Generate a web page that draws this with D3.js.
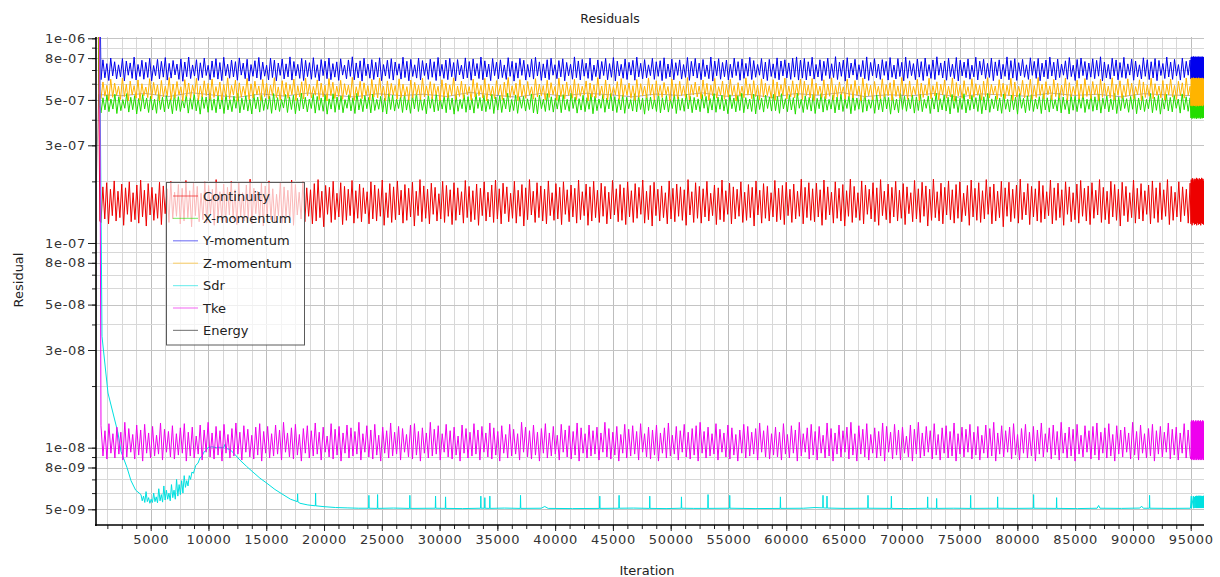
<!DOCTYPE html>
<html><head><meta charset="utf-8">
<script src="https://cdn.jsdelivr.net/npm/d3@7"></script>
<style>
body{margin:0;background:#fff;}
svg text{font-family:"DejaVu Sans",sans-serif;}
</style>
</head><body>
<svg id="chart" width="1220" height="577"></svg>
<script>
// ---------------- DATA ----------------
const chartTitle = "Residuals";
const xAxisTitle = "Iteration";
const yAxisTitle = "Residual";
const seriesNames = ["Continuity","X-momentum","Y-momentum","Z-momentum","Sdr","Tke","Energy"];

const xDomain = [268, 96150];
const yDomain = [4.19e-9, 1.0147e-6];
const xLabelValues = [5000,10000,15000,20000,25000,30000,35000,40000,45000,50000,55000,60000,65000,70000,75000,80000,85000,90000,95000];
const xLabels = ["5000","10000","15000","20000","25000","30000","35000","40000","45000","50000","55000","60000","65000","70000","75000","80000","85000","90000","95000"];
const yLabelValues = [5e-9,8e-9,1e-8,3e-8,5e-8,8e-8,1e-7,3e-7,5e-7,8e-7,1e-6];
const yLabels = ["5e-09","8e-09","1e-08","3e-08","5e-08","8e-08","1e-07","3e-07","5e-07","8e-07","1e-06"];
const yMinorValues = [5e-9,6e-9,7e-9,8e-9,9e-9,1e-8,2e-8,3e-8,4e-8,5e-8,6e-8,7e-8,8e-8,9e-8,1e-7,2e-7,3e-7,4e-7,5e-7,6e-7,7e-7,8e-7,9e-7,1e-6];

// iteration span of the regular oscillation and of the dense final block
const mainSpan = [700, 94950];
const endSpan = [95020, 96140];

// Continuity (x1e-9)
const contHeadIter = [380, 600];
const contHeadVal = [5000, 128];
const continuity = [126,188,131,197,124,183,136,201,128,179,133,194,122,186,138,199,127,176,130,192,
125,203,134,181,121,195,137,187,129,174,132,198,123,190,139,184,126,200,131,177,
135,193,124,185,128,202,133,180,120,196,136,189,127,175,130,199,125,191,138,183,
122,204,134,178,129,194,126,187,137,200,131,182,123,197,135,176,128,192,132,205,
124,185,139,179,127,196,121,190,133,201,130,184,126,173,136,198,125,188,134,181,
129,203,122,193,137,177,131,199,127,186,135,182,124,195,128,204,133,179,120,191,
138,187,126,200,130,175,134,197,123,189,129,183,136,202,125,180,132,194,127,186,
139,178,124,199,131,192,128,184,135,203,122,176,133,195,126,188,130,201,137,181,
125,193,129,185,134,198,121,179,136,204,127,190,132,183,124,196,138,187,128,174,
131,200,126,191,135,182,123,197,129,186,137,178,125,202,133,189,127,180,130,194,
122,185,136,199,128,177,134,192,126,203,131,184,124,196,139,188,127,175,132,200,
125,181,135,193,121,186,130,204,137,179,126,197,133,190,128,183,124,201,136,176,
129,195,131,187,123,199,138,182,127,192,134,185,125,203,130,178,136,194,122,188,
128,200,133,181,126,196,135,189,124,177,131,202,137,184,127,193,129,186,123,199,
134,180,126,195,132,187,138,203,125,179,130,191,121,198,136,183,128,190,133,176,
124,201,131,185,127,194,135,188,129,182,122,204,137,178,126,197,132,189,125,184,
134,200,128,175,136,192,123,186,130,203,127,180,138,196,124,188,131,183,135,199,
126,177,129,193,133,187,121,201,137,181,125,195,132,189,128,176,134,202,127,185,
130,191,123,198,136,183,126,194,131,179,135,205,124,187,133,197,129,184,
127,196,134,182,122,203,130,188,137,177,125,199,132,185,128,193,121,180,135,205,
126,189,133,176,129,201,124,192,138,183,131,197,127,186,122,204,136,179,130,194,
125,187,134,200,128,181,132,195,123,188,139,176,127,202,131,184,126,198,135,190,
121,183,129,205,133,178,128,196,124,187,137,201,130,182,125,193,132,199,127,175,
136,191,122,203,134,185,129,197,126,180,131,204,138,188,124,194,128,179,133,200,
120,186,135,198,127,183,132,192,125,205,130,177,137,195,123,189,134,184,128,201,
126,191,131,178,136,203,124,186,129,196,133,182,122,199,138,188,127,176,130,194,
125,202,135,185,128,190,123,197,132,181,137,204,126,187,130,179,124,200,134,193,
129,183,121,198,136,189,127,176,133,203,125,185,131,195,128,180,138,192,124,201,
132,186,126,197,130,182,135,204,123,189,129,177,134,199,127,188,136,183,125,196];
const continuityEnd = [124,204,127,201,122,207,126,203,125,199,128,206,123,202,126,205,124,200,127,208,122,203,125,206,128,201,123,204,126,207,124,200,127,205,122,203,125,208,128,202,124,206,126,201,123,205];

// X-momentum (x1e-9)
const xmomHeadIter = [400, 560];
const xmomHeadVal = [4000, 470];
const xMomentum = [432,512,447,528,438,505,451,533,429,518,443,502,455,537,436,515,448,525,427,508,
440,531,452,511,434,521,446,504,430,539,449,516,437,526,453,507,428,534,444,519,
439,503,456,529,431,513,450,536,442,509,426,524,454,517,435,540,445,506,433,527,
451,514,429,532,447,502,438,521,455,538,432,510,448,525,441,505,427,535,453,516,
436,529,444,508,450,522,430,537,446,513,439,503,456,531,434,518,449,526,428,509,
443,539,452,515,437,504,454,533,431,520,445,511,440,528,426,506,451,536,435,517,
448,523,433,502,455,530,442,512,429,539,447,507,438,524,453,515,432,534,444,503,
450,521,436,510,427,537,449,527,441,505,454,518,434,532,446,509,430,525,452,540,
439,513,445,504,428,529,455,516,437,535,443,507,451,522,433,538,448,511,426,526,
440,503,453,531,435,519,447,508,431,536,454,514,442,527,438,505,450,533,429,517,
446,524,434,510,452,539,437,502,444,529,430,515,455,520,441,506,449,535,432,512,
427,528,453,504,439,537,445,518,436,509,451,525,433,531,448,503,440,540,454,516,
431,507,446,527,438,513,450,534,428,521,443,505,455,530,435,511,452,538,442,519,
434,508,447,529,430,515,453,502,441,536,437,523,449,510,426,533,444,517,451,506,
439,540,432,512,448,525,436,503,454,531,429,518,445,509,440,535,452,521,433,514,
447,506,438,532,455,520,431,508,446,537,435,516,450,527,442,504,428,530,453,511,
437,524,444,539,433,513,451,505,439,534,427,522,449,510,436,528,454,517,441,532,
443,519,430,536,452,507,438,527,447,513,426,539,455,504,434,524,449,515,441,531,
429,509,453,537,436,520,445,503,451,528,432,516,447,535,439,506,454,522,428,533,
444,511,450,526,435,540,441,502,455,518,430,530,448,508,437,536,452,514,426,525,
446,505,433,538,449,521,440,510,453,529,431,517,444,534,438,503,455,523,429,512,
451,539,436,507,447,527,441,515,427,532,454,520,434,509,449,536,432,504,445,525,
452,513,439,530,428,518,446,538,435,506,453,522,442,511,430,534,450,503,437,528,
448,516,426,537,455,509,433,524,444,531,439,505,451,519,429,535,447,512,436,526,
453,502,441,539,432,517,449,508,427,530,445,521,438,513,455,536,434,504,450,527,
440,518,446,533,431,510,452,524,437,506,448,538,429,515,443,529,454,507,435,520,
450,534,428,511,447,523,439,503,453,537,433,516,445,526,426,509,451,532,442,514,
437,525,455,505,431,535,448,518,440,512];
const xMomentumEnd = [408,492,412,498,405,489,410,495,414,490,407,497,411,493,406,499,413,491,409,496,404,494,412,488,408,498,411,492,406,495,413,490,409,497,405,493,410,499,412,491,407,496,411,494,408,490];

// Y-momentum (x1e-9)
const ymomHeadIter = [520];
const ymomHeadVal = [5000];
const yMomentum = [628,785,641,752,622,801,655,768,633,742,648,796,619,774,660,758,637,809,626,745,
651,781,631,763,644,798,620,736,657,789,634,771,646,805,625,754,639,779,662,748,
630,793,617,766,649,810,636,741,654,786,623,759,642,800,658,738,627,775,645,795,
632,761,621,808,656,747,638,783,647,769,624,802,661,756,635,790,618,744,652,777,
640,806,629,765,653,739,626,799,643,782,620,757,659,792,633,750,648,811,625,770,
655,746,637,797,622,780,650,760,631,804,644,743,619,788,657,773,635,801,628,752,
646,767,623,794,661,740,634,784,652,812,627,758,641,776,618,799,656,749,638,787,
629,763,647,803,621,744,654,781,636,795,625,766,660,751,632,808,643,772,620,789,
651,742,639,800,626,778,658,755,630,791,645,768,622,806,653,746,637,783,628,797,
649,761,619,787,662,739,633,802,641,770,624,793,655,753,636,810,627,776,647,748,
621,796,657,764,634,785,643,741,630,804,652,772,618,759,639,798,659,781,625,745,
646,790,632,807,654,767,623,750,640,786,628,799,660,743,635,778,648,794,620,762,
656,747,631,811,642,775,626,789,653,756,637,801,622,740,650,784,633,770,658,797,
627,752,645,805,619,773,655,746,638,792,629,763,661,780,624,809,648,755,634,787,
641,742,657,798,630,768,652,777,621,803,636,749,647,791,627,760,659,785,632,744,
644,806,623,771,654,797,639,756,628,788,650,741,635,810,618,774,656,795,631,762,
649,783,626,747,643,800,657,769,624,792,637,754,653,807,629,778,645,745,660,796,
633,765,622,789,651,750,638,802,627,775,655,786,640,758,630,799,646,811,625,782,
639,797,626,768,654,808,632,745,647,786,621,772,658,799,636,751,643,813,629,766,
652,782,618,804,640,757,661,790,627,743,649,779,634,811,623,762,656,795,641,748,
630,787,659,771,625,805,645,740,633,796,651,763,620,809,638,777,657,752,628,792,
646,769,622,801,653,744,637,784,629,812,660,758,640,775,624,798,650,747,635,806,
619,781,655,765,642,793,631,739,648,808,626,773,661,790,636,754,644,800,621,767,
657,785,633,746,652,811,627,778,639,795,623,760,656,789,645,742,630,803,659,771,
637,797,620,756,648,783,634,809,654,764,626,792,643,748,660,776,631,805,650,739,
622,788,638,801,657,770,628,757,646,794,635,780,653,812,619,766,641,745,632,799,
655,784,627,761,644,807,637,750,661,791,624,774,648,742,633,803,652,786,629,768,
640,796,621,779,658,753,636,810,647,765,630,789,654,744,625,800,643,772,660,783];
const yMomentumEnd = [632,808,628,813,636,805,630,811,627,815,634,807,629,812,638,806,631,814,626,809,635,811,629,807,633,815,628,810,637,806,630,813,627,808,634,812,631,805,636,814,629,809,632,811,628,807];

// Z-momentum (x1e-9)
const zmomHeadIter = [420, 580];
const zmomHeadVal = [4000, 540];
const zMomentum = [508,612,521,589,497,631,515,604,526,583,503,640,519,596,494,618,528,587,510,626,
499,600,524,578,513,635,506,609,529,592,496,622,517,584,523,643,501,598,512,615,
527,580,495,628,520,605,509,590,531,638,498,586,516,620,525,602,504,633,514,581,
522,611,500,595,518,641,507,588,528,624,493,606,515,583,524,637,502,599,511,617,
529,585,497,629,519,603,506,591,526,642,513,579,499,621,521,608,509,594,530,632,
496,587,517,613,505,639,523,597,512,582,527,626,501,604,518,589,494,636,525,610,
508,584,520,623,503,600,529,591,514,644,498,580,522,616,507,606,526,587,500,630,
516,595,511,640,524,583,495,619,519,602,528,588,504,634,513,597,521,581,498,625,
510,609,527,590,502,638,517,586,523,614,506,600,530,583,497,627,515,604,512,592,
525,641,503,585,520,618,508,596,528,581,499,632,516,607,524,589,511,637,494,599,
522,584,507,621,529,593,501,610,518,643,513,586,526,603,496,628,520,590,509,615,
527,580,504,635,517,598,523,587,500,624,514,607,530,582,498,639,519,594,506,612,
525,588,510,631,502,600,521,583,528,619,495,605,516,592,512,642,524,585,507,626,
499,597,520,581,529,614,503,636,518,591,526,604,509,587,497,629,515,600,523,584,
511,640,527,595,501,620,522,589,514,608,530,582,496,633,519,599,505,616,525,586,
513,643,500,593,528,611,517,584,506,625,521,602,498,590,524,637,510,581,529,618,
503,596,516,630,526,588,494,607,520,584,512,641,527,599,507,621,519,590,501,634,
516,603,524,587,509,628,498,612,521,594,527,639,505,585,518,620,511,598,526,632,
502,617,525,590,511,636,497,603,528,584,514,627,506,598,521,641,499,588,517,612,
530,580,504,631,519,596,510,622,526,585,495,639,513,601,523,590,500,615,529,583,
508,634,516,594,524,607,498,625,520,586,512,643,527,599,503,619,518,582,531,630,
496,604,514,591,525,638,507,587,522,613,501,597,528,626,510,584,517,640,494,608,
523,593,509,621,529,581,505,635,515,600,526,589,499,617,520,642,512,595,530,585,
503,628,518,603,507,590,524,637,497,611,516,583,527,623,511,598,521,632,502,588,
514,644,525,596,506,614,529,586,500,629,519,602,510,591,523,639,498,607,517,582,
526,624,504,598,513,636,520,587,508,615,528,593,496,631,515,605,522,584,511,641,
501,595,527,620,509,589,518,634,524,603,505,581,530,627,497,612,514,592,521,638,
507,600,525,585,512,622,499,597,529,633,516,588,503,616,523,606,510,640,526,583];
const zMomentumEnd = [468,636,472,641,466,633,474,639,469,642,471,634,467,638,473,640,470,635,465,641,472,637,468,633,474,639,466,642,471,636,469,634,473,640,467,638,470,635,472,641,466,637,469,633,474,639];

// Sdr (x1e-9) as [iteration, value]
const sdrPoints = [[530,3000],[787,35],[1306,18.5],[2170,11.8],[2430,9.6],[2950,8.0],[3296,6.9],[3700,6.2],[4160,5.9],
[4270,5.5],[4380,5.8],[4490,5.4],[4600,6.1],[4710,5.45],[4820,5.7],[4930,5.35],[5040,5.6],[5150,5.4],[5260,6.0],[5370,5.45],
[5480,5.75],[5590,5.38],[5700,6.3],[5810,5.5],[5920,5.9],[6030,5.42],[6140,6.5],[6250,5.55],[6360,6.2],[6470,5.6],
[6580,6.0],[6690,5.5],[6800,6.6],[6910,5.7],[7020,6.2],[7130,5.6],[7240,7.0],[7350,5.8],[7460,6.6],[7570,5.9],
[7680,6.9],[7790,6.0],[7900,7.3],[8010,6.4],[8120,6.9],[8230,6.5],[8340,7.3],[8450,7.0],[8570,7.6],[8700,7.5],
[8900,8.2],[9100,8.4],[9260,8.9],[9450,9.1],[9600,9.5],[9800,9.7],[9950,10.0],[10300,10.1],[10700,10.0],[11000,10.05],
[11300,9.95],[11440,10.4],[11550,9.9],[11860,9.8],[12300,9.25],[12720,8.7],[13300,8.1],[13850,7.6],[14450,7.1],[15060,6.7],
[15750,6.25],[16450,5.9],[17100,5.6],[17690,5.45],[17715,5.95],[17740,5.44],[17920,5.35],[18600,5.25],[19250,5.2],[19272,6.0],
[19295,5.2],[20000,5.15],[21000,5.1],[22000,5.08],[23000,5.06],
[23860,5.06],[23883,5.85],[23906,5.06],[24612,5.05],[24635,5.9],[24658,5.05],[26000,5.07],
[27406,5.05],[27429,5.85],[27452,5.05],[29629,5.06],[29652,5.8],[29675,5.06],[30494,5.05],[30517,5.75],[30540,5.05],[32000,5.04],
[33547,5.06],[33570,5.8],[33593,5.06],[33894,5.06],[33917,5.7],[33940,5.06],[34327,5.05],[34350,5.8],[34373,5.05],[35600,5.07],
[36982,5.05],[37005,5.85],[37028,5.05],[38800,5.06],[39100,5.16],[39400,5.05],[41500,5.04],
[43841,5.05],[43864,5.8],[43887,5.05],[45511,5.06],[45534,5.85],[45557,5.06],[46800,5.07],
[48167,5.05],[48190,5.8],[48213,5.05],[49600,5.04],[50908,5.06],[50931,5.75],[50954,5.06],[52000,5.05],
[53209,5.05],[53232,5.9],[53255,5.05],[55087,5.06],[55110,5.85],[55133,5.06],[57300,5.04],
[59472,5.05],[59495,5.75],[59518,5.05],[61500,5.06],[62500,5.1],
[63157,5.08],[63180,5.85],[63203,5.08],[63503,5.07],[63526,5.8],[63549,5.07],[65000,5.05],
[67050,5.06],[67073,5.85],[67096,5.06],[69074,5.05],[69097,5.8],[69120,5.05],[70600,5.04],
[72214,5.06],[72237,5.75],[72260,5.06],[72993,5.05],[73016,5.65],[73039,5.05],[74500,5.06],
[75934,5.05],[75957,5.85],[75980,5.05],[78269,5.06],[78292,5.75],[78315,5.06],[79800,5.05],
[81383,5.06],[81406,5.9],[81429,5.06],[83373,5.05],[83396,5.7],[83419,5.05],[85200,5.04],
[86900,5.06],[87029,5.22],[87150,5.06],[89000,5.05],[90600,5.07],[90749,5.18],[90900,5.06],
[91418,5.06],[91441,5.85],[91464,5.06],[93300,5.05],[94980,5.06],
[95050,5.8],[95075,5.06],[95230,5.8],[95255,5.06],[95330,5.75],[95355,5.07],
[95420,5.8],[95445,5.08],[95470,5.78],[95495,5.07],[95520,5.82],[95545,5.08],[95570,5.79],[95595,5.07],[95620,5.81],[95645,5.08],
[95670,5.77],[95695,5.07],[95720,5.83],[95745,5.08],[95770,5.8],[95795,5.07],[95820,5.78],[95845,5.08],[95870,5.82],[95895,5.07],
[95920,5.79],[95945,5.08],[95970,5.81],[95995,5.07],[96020,5.8],[96045,5.08],[96070,5.78],[96095,5.07],[96120,5.82],[96140,5.1]];

// Tke (x1e-10)
const tkeHeadIter = [560];
const tkeHeadVal = [30000];
const tke = [128,91,121,88,131,94,117,89,126,93,119,87,133,90,124,95,116,88,129,92,
122,86,130,94,118,89,127,91,115,93,132,87,123,95,120,90,128,88,117,92,
125,94,131,86,119,91,126,89,114,93,129,87,122,95,133,90,118,88,127,92,
121,86,130,94,116,89,124,91,132,93,119,87,128,95,123,90,115,88,126,92,
131,86,120,94,127,89,117,91,129,93,122,87,133,95,118,90,125,88,130,92,
116,86,124,94,128,89,121,91,132,93,119,87,126,95,114,90,131,88,123,92,
127,86,118,94,129,89,125,91,120,93,133,87,117,95,128,90,122,88,130,92,
115,86,126,94,121,89,132,91,119,93,127,87,124,95,116,90,129,88,131,92,
120,86,125,94,118,89,133,91,123,93,128,87,117,95,130,90,121,88,126,92,
114,86,129,94,124,89,119,91,131,93,122,87,127,95,118,90,132,88,125,92,
120,86,128,94,116,89,130,91,123,93,117,87,133,95,126,90,121,88,129,92,
119,86,124,94,131,89,118,91,127,93,115,87,130,95,122,90,128,88,120,92,
132,86,125,94,117,89,129,91,121,93,126,87,118,95,133,90,124,88,119,92,
127,86,116,94,130,89,123,91,128,93,120,87,131,95,117,90,126,88,122,92,
129,86,118,94,125,89,132,91,115,93,127,87,121,95,130,90,119,88,124,92,
128,86,133,94,120,89,126,91,117,93,131,87,123,95,118,90,129,88,125,92,
116,86,122,94,130,89,127,91,119,93,124,87,132,95,121,90,128,88,117,92,
126,90,119,87,131,93,116,89,128,94,122,86,133,91,117,95,125,88,130,92,
120,87,127,94,115,89,132,91,124,86,118,93,129,90,121,95,126,88,133,92,
117,86,128,93,123,90,131,87,116,94,125,89,120,91,132,86,127,95,119,88,
130,92,122,87,126,94,114,90,129,86,123,93,133,89,118,91,127,95,121,88,
131,92,116,87,125,94,128,89,120,91,132,86,117,93,126,90,123,95,130,88,
119,92,127,87,115,94,129,89,124,91,133,86,118,93,128,90,121,95,126,88,
131,92,116,87,124,94,130,89,119,91,127,86,122,93,132,90,117,95,125,88,
129,92,120,87,133,94,118,89,126,91,123,86,130,93,115,90,128,95,121,88,
127,92,132,87,119,94,125,89,131,91,116,86,128,93,122,90,126,95,118,88,
133,92,120,87,129,94,117,89,124,91,130,86,121,93,127,90,119,95,132,88,
123,92,126,87,118,94,131,89,122,91];
const tkeEnd = [88,134,87,136,89,133,88,135,87,136,89,134,88,133,87,135,89,136,88,134,87,133,89,135,88,136,87,134,89,133,88,135,87,136,89,134,88,133,87,135,89,136,88,134,87,135];

// Energy (x1e-9)
const energyHeadIter = [270, 290];
const energyHeadVal = [11, 190];
const energySpan = [500, 94950];
const energy = [531,524,538,519,542,527,515,535,522,540,529,517,536,525,533,520,544,528,516,537,523,539,530,518,534,526,541,521,532,514,537,527,543,519,530,524,538,516,535,528,521,540,526,533,518,536,529,525];

// ---------------- STYLE / LAYOUT ----------------
const colors = {"Continuity":"#ee0000","X-momentum":"#22dd00","Y-momentum":"#0000ee","Z-momentum":"#ffb400","Sdr":"#00e0e0","Tke":"#ee00ee","Energy":"#111111"};
const M = {left:96, top:37, right:1204, bottom:525};

function build(headIter, headVal, body, span, tail, unit) {
  const pts = headIter.map((it, i) => [it, headVal[i] * unit]);
  const n = body.length;
  body.forEach((v, i) => pts.push([span[0] + i * (span[1] - span[0]) / (n - 1), v * unit]));
  if (tail) {
    const m = tail.length;
    tail.forEach((v, i) => pts.push([endSpan[0] + i * (endSpan[1] - endSpan[0]) / (m - 1), v * unit]));
  }
  return pts;
}

const seriesData = {
  "Continuity": build(contHeadIter, contHeadVal, continuity, mainSpan, continuityEnd, 1e-9),
  "X-momentum": build(xmomHeadIter, xmomHeadVal, xMomentum, mainSpan, xMomentumEnd, 1e-9),
  "Y-momentum": build(ymomHeadIter, ymomHeadVal, yMomentum, mainSpan, yMomentumEnd, 1e-9),
  "Z-momentum": build(zmomHeadIter, zmomHeadVal, zMomentum, mainSpan, zMomentumEnd, 1e-9),
  "Sdr": sdrPoints.map(d => [d[0], d[1] * 1e-9]),
  "Tke": build(tkeHeadIter, tkeHeadVal, tke, mainSpan, tkeEnd, 1e-10),
  "Energy": build(energyHeadIter, energyHeadVal, energy, energySpan, null, 1e-9)
};
const drawOrder = ["Energy","Continuity","X-momentum","Y-momentum","Z-momentum","Sdr","Tke"];

const svg = d3.select("#chart");
svg.append("rect").attr("width",1220).attr("height",577).attr("fill","#fff");

const x = d3.scaleLinear().domain(xDomain).range([M.left, M.right]);
const y = d3.scaleLog().domain(yDomain).range([M.bottom, M.top]);

// grid
const xGrid = d3.range(1250, xDomain[1], 1250);
const grid = svg.append("g");
grid.selectAll("line.vx").data(xGrid).join("line")
  .attr("x1", d => Math.round(x(d)) + 0.5).attr("x2", d => Math.round(x(d)) + 0.5)
  .attr("y1", M.top).attr("y2", M.bottom)
  .attr("stroke", d => d % 5000 === 0 ? "#bdbdbd" : "#d8d8d8").attr("stroke-width", 1);
grid.selectAll("line.hy").data(yMinorValues).join("line")
  .attr("x1", M.left).attr("x2", M.right)
  .attr("y1", d => Math.round(y(d)) + 0.5).attr("y2", d => Math.round(y(d)) + 0.5)
  .attr("stroke", d => yLabelValues.includes(d) ? "#c4c4c4" : "#d8d8d8").attr("stroke-width", 1);

// lines
svg.append("clipPath").attr("id","plotClip").append("rect")
  .attr("x", M.left).attr("y", M.top).attr("width", M.right - M.left).attr("height", M.bottom - M.top);
const line = d3.line().x(d => x(d[0])).y(d => y(d[1]));
const lines = svg.append("g").attr("clip-path","url(#plotClip)");
drawOrder.forEach(name => {
  lines.append("path").datum(seriesData[name])
    .attr("fill","none").attr("stroke", colors[name])
    .attr("stroke-width", name === "Energy" ? 0.7 : 1)
    .attr("stroke-opacity", name === "Energy" ? 0.5 : 1)
    .attr("stroke-linejoin","miter")
    .attr("d", line);
});

// axes
const tickFont = g => g.selectAll("text").attr("font-size", 13).attr("fill", "#333").attr("letter-spacing", "0.7px").attr("font-family","DejaVu Sans");
svg.append("g").attr("transform", `translate(${M.left},0)`)
  .call(d3.axisLeft(y).tickValues(yMinorValues).tickSize(4).tickFormat(""))
  .call(g => g.select(".domain").remove());
svg.append("g").attr("transform", `translate(${M.left},0)`)
  .call(d3.axisLeft(y).tickValues(yLabelValues).tickSize(8).tickPadding(2).tickFormat((d, i) => yLabels[i]))
  .call(g => g.select(".domain").remove())
  .call(tickFont);
svg.append("g").attr("transform", `translate(0,${M.bottom})`)
  .call(d3.axisBottom(x).tickValues(xGrid).tickSize(4).tickFormat(""))
  .call(g => g.select(".domain").remove());
svg.append("g").attr("transform", `translate(0,${M.bottom})`)
  .call(d3.axisBottom(x).tickValues(xLabelValues).tickSize(6).tickPadding(4).tickFormat((d, i) => xLabels[i]))
  .call(g => g.select(".domain").remove())
  .call(tickFont);
svg.selectAll(".tick line").attr("stroke", "#222");

svg.append("line").attr("x1", M.left).attr("x2", M.left).attr("y1", M.top).attr("y2", M.bottom + 1)
  .attr("stroke", "#000").attr("stroke-width", 1.6);
svg.append("line").attr("x1", M.left - 1).attr("x2", M.right).attr("y1", M.bottom).attr("y2", M.bottom)
  .attr("stroke", "#000").attr("stroke-width", 1.4);

// titles
svg.append("text").attr("x", 610).attr("y", 23).attr("text-anchor","middle")
  .attr("font-size", 12.5).attr("fill","#222").text(chartTitle);
svg.append("text").attr("x", 647).attr("y", 575).attr("text-anchor","middle")
  .attr("font-size", 13).attr("fill","#222").text(xAxisTitle);
svg.append("text").attr("transform", "translate(23,280) rotate(-90)").attr("text-anchor","middle")
  .attr("font-size", 13).attr("fill","#222").text(yAxisTitle);

// legend
const legend = svg.append("g");
legend.append("rect").attr("x", 166.5).attr("y", 182.5).attr("width", 138).attr("height", 162.5)
  .attr("fill", "#fff").attr("fill-opacity", 0.72).attr("stroke", "#5a5a5a").attr("stroke-width", 1);
seriesNames.forEach((name, i) => {
  const yy = 196 + i * 22.4;
  legend.append("line").attr("x1", 173).attr("x2", 198).attr("y1", yy).attr("y2", yy)
    .attr("stroke", colors[name]).attr("stroke-opacity", 0.5).attr("stroke-width", 1.2);
  legend.append("text").attr("x", 203).attr("y", yy + 4.5).attr("font-size", 13)
    .attr("fill", "#222").text(name);
});
</script>
</body></html>
